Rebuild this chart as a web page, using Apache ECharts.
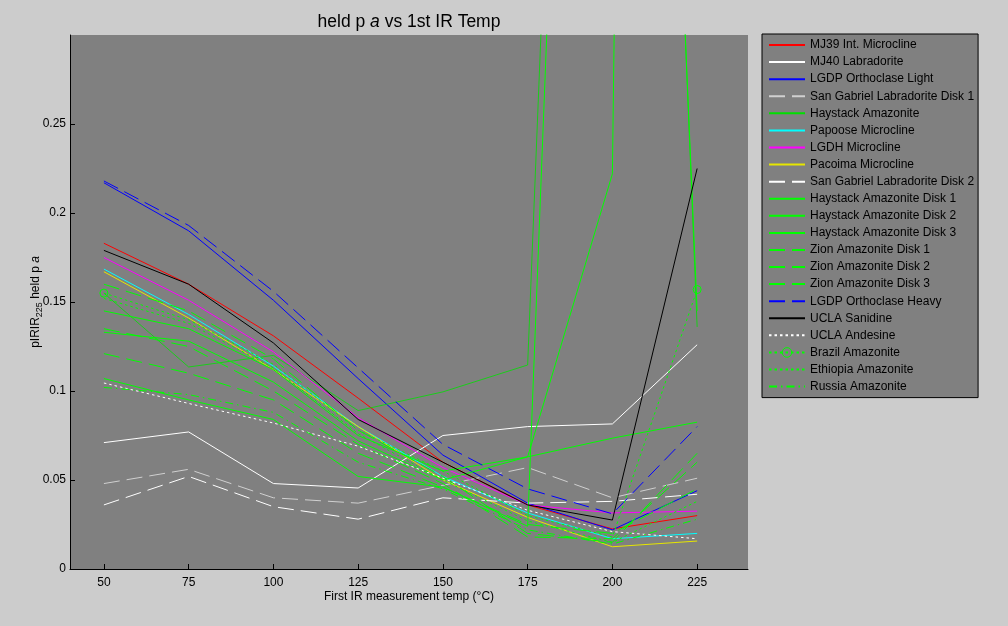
<!DOCTYPE html>
<html><head><meta charset="utf-8">
<script src="https://cdn.jsdelivr.net/npm/echarts@6/dist/echarts.min.js"></script>
<style>html,body{margin:0;padding:0;background:#ffffff}#c{width:1008px;height:626px}</style>
</head><body><div id="c"></div>
<script>
// ---- data ----
const temps = [50, 75, 100, 125, 150, 175, 200, 225];
const xTickValues = [50, 75, 100, 125, 150, 175, 200, 225];
const seriesNames = [
  'MJ39 Int. Microcline', 'MJ40 Labradorite', 'LGDP Orthoclase Light', 'San Gabriel Labradorite Disk 1',
  'Haystack Amazonite', 'Papoose Microcline', 'LGDH Microcline', 'Pacoima Microcline',
  'San Gabriel Labradorite Disk 2', 'Haystack Amazonite Disk 1', 'Haystack Amazonite Disk 2',
  'Haystack Amazonite Disk 3', 'Zion Amazonite Disk 1', 'Zion Amazonite Disk 2', 'Zion Amazonite Disk 3',
  'LGDP Orthoclase Heavy', 'UCLA Sanidine', 'UCLA Andesine', 'Brazil Amazonite', 'Ethiopia Amazonite',
  'Russia Amazonite'
];
const mj39 = [0.183, 0.160, 0.131, 0.096, 0.060, 0.036, 0.0225, 0.030];
const mj40 = [0.071, 0.077, 0.048, 0.0455, 0.075, 0.080, 0.0815, 0.126];
const lgdpLight = [0.217, 0.190, 0.151, 0.107, 0.064, 0.037, 0.022, 0.044];
const sgDisk1 = [0.048, 0.056, 0.040, 0.037, 0.047, 0.057, 0.040, 0.051];
const haystack = [0.155, 0.1135, 0.120, 0.089, 0.0995, 0.1146, 1.30, 0.136];
const papoose = [0.1685, 0.143, 0.114, 0.080, 0.052, 0.0315, 0.017, 0.020];
const lgdh = [0.175, 0.151, 0.122, 0.085, 0.057, 0.036, 0.0315, 0.0325];
const pacoima = [0.167, 0.141, 0.112, 0.080, 0.050, 0.029, 0.0125, 0.0157];
const sgDisk2 = [0.036, 0.052, 0.035, 0.028, 0.040, 0.037, 0.038, 0.042];
const haystackD1 = [0.145, 0.135, 0.112, 0.075, 0.055, 0.063, 0.0735, 0.0825];
const haystackD2 = [0.133, 0.128, 0.105, 0.072, 0.050, 0.063, 0.222, 4.0];
const haystackD3 = [0.107, 0.095, 0.084, 0.052, 0.046, 0.024, 1.25, 0.145];
const zionD1 = [0.160, 0.145, 0.118, 0.078, 0.052, 0.020, 0.015, 0.065];
const zionD2 = [0.135, 0.125, 0.100, 0.070, 0.048, 0.018, 0.017, 0.060];
const zionD3 = [0.121, 0.110, 0.095, 0.065, 0.046, 0.025, 0.020, 0.045];
const lgdpHeavy = [0.218, 0.193, 0.156, 0.113, 0.070, 0.045, 0.031, 0.080];
const uclaSanidine = [0.179, 0.160, 0.127, 0.084, 0.060, 0.036, 0.0275, 0.225];
const uclaAndesine = [0.1045, 0.093, 0.082, 0.069, 0.051, 0.033, 0.021, 0.017];
const brazil = [0.155, 0.140, 0.115, 0.078, 0.055, 0.030, 0.018, 0.157];
const ethiopia = [0.152, 0.138, 0.113, 0.076, 0.050, 0.027, 0.015, 0.038];
const russia = [0.102, 0.098, 0.088, 0.060, 0.045, 0.022, 0.014, 0.028];
const brazilMarkerAt = [50, 225];

const allValues = [mj39, mj40, lgdpLight, sgDisk1, haystack, papoose, lgdh, pacoima, sgDisk2,
  haystackD1, haystackD2, haystackD3, zionD1, zionD2, zionD3, lgdpHeavy, uclaSanidine,
  uclaAndesine, brazil, ethiopia, russia];

// ---- styles ----
const DASH = [16, 7], DOT = [2.5, 3], DASHDOT = [8, 4, 1.5, 4];
const styles = [
  {c: '#ff0000', t: 'solid'}, {c: '#ffffff', t: 'solid'}, {c: '#0000ff', t: 'solid'},
  {c: '#d0d0d0', t: DASH}, {c: '#00e000', t: 'solid', w: 0.8}, {c: '#00ffff', t: 'solid'},
  {c: '#ff00ff', t: 'solid'}, {c: '#e6e600', t: 'solid'}, {c: '#ffffff', t: DASH},
  {c: '#00ff00', t: 'solid'}, {c: '#00ff00', t: 'solid'}, {c: '#00ff00', t: 'solid'},
  {c: '#00ff00', t: DASH}, {c: '#00ff00', t: DASH}, {c: '#00ff00', t: DASH},
  {c: '#0000ff', t: DASH}, {c: '#000000', t: 'solid'}, {c: '#ffffff', t: DOT},
  {c: '#00ff00', t: DOT, marker: true}, {c: '#00ff00', t: DOT}, {c: '#00ff00', t: DASHDOT}
];

const FONT = '"Liberation Sans", Arial, sans-serif';
const markerStyle = {color: 'rgba(0,0,0,0)', borderColor: '#00ff00', borderWidth: 1, opacity: 1};

const series = seriesNames.map((name, i) => {
  const st = styles[i];
  const vals = allValues[i];
  const data = temps.map((x, k) => {
    if (st.marker) {
      return {value: [x, vals[k]], symbol: brazilMarkerAt.indexOf(x) >= 0 ? 'circle' : 'none'};
    }
    return [x, vals[k]];
  });
  return {
    name, type: 'line', data,
    symbol: st.marker ? 'circle' : 'none',
    symbolSize: 8,
    showSymbol: !!st.marker,
    itemStyle: st.marker ? markerStyle : {color: st.c},
    lineStyle: {color: st.c, width: st.w || 1, type: st.t},
    animation: false,
    clip: true,
    silent: true
  };
});

const chart = echarts.init(document.getElementById('c'), null, {renderer: 'canvas'});
chart.setOption({
  backgroundColor: '#cccccc',
  animation: false,
  textStyle: {fontFamily: FONT},
  title: {
    text: '{n|held p }{i|a}{n| vs 1st IR Temp}',
    left: 404, top: 8, textAlign: 'center',
    textStyle: {
      fontWeight: 'normal',
      rich: {
        n: {fontFamily: FONT, fontSize: 17.5, color: '#000', fontWeight: 'normal'},
        i: {fontFamily: FONT, fontSize: 17.5, color: '#000', fontStyle: 'italic', fontWeight: 'normal'}
      }
    }
  },
  legend: {
    orient: 'vertical', left: 762, top: 34,
    backgroundColor: '#808080', borderColor: '#000', borderWidth: 1,
    padding: [5, 4, 5, 6], itemWidth: 36, itemHeight: 12, itemGap: 5.08,
    textStyle: {fontFamily: FONT, fontSize: 12, color: '#000'},
    itemStyle: {opacity: 0},
    data: seriesNames.map((n, i) => styles[i].marker
      ? {name: n, itemStyle: {color: 'rgba(0,0,0,0)', borderColor: '#00ff00', borderWidth: 1, opacity: 1}}
      : {name: n}),
    selectedMode: false
  },
  grid: {
    left: 70, top: 35, width: 678, height: 534,
    show: true, backgroundColor: '#808080', borderColor: '#000', borderWidth: 0
  },
  xAxis: {
    type: 'value', min: 40, max: 240,
    name: 'First IR measurement temp (\u00b0C)', nameLocation: 'middle', nameGap: 22,
    nameMoveOverlap: false,
    nameTextStyle: {fontFamily: FONT, fontSize: 12, color: '#000'},
    axisLine: {show: true, lineStyle: {color: '#000', width: 1}},
    axisTick: {show: true, inside: true, length: 5, customValues: xTickValues, lineStyle: {color: '#000'}},
    axisLabel: {customValues: xTickValues, fontFamily: FONT, fontSize: 12, color: '#000', margin: 8},
    splitLine: {show: false}
  },
  yAxis: {
    type: 'value', min: 0, max: 0.3, interval: 0.05,
    name: '{n|pIRIR}{s|225}{n| held p }{i|a}', nameLocation: 'middle', nameGap: 26, nameRotate: 90,
    nameMoveOverlap: false,
    nameTextStyle: {
      rich: {
        n: {fontFamily: FONT, fontSize: 12, color: '#000'},
        s: {fontFamily: FONT, fontSize: 9, color: '#000', padding: [7, 0, 0, 0]},
        i: {fontFamily: FONT, fontSize: 12, color: '#000', fontStyle: 'italic'}
      }
    },
    axisLine: {show: true, lineStyle: {color: '#000', width: 1}},
    axisTick: {show: true, inside: true, length: 5, lineStyle: {color: '#000'}},
    axisLabel: {fontFamily: FONT, fontSize: 12, color: '#000', margin: 4, showMaxLabel: false},
    splitLine: {show: false}
  },
  series
});
</script>
</body></html>
